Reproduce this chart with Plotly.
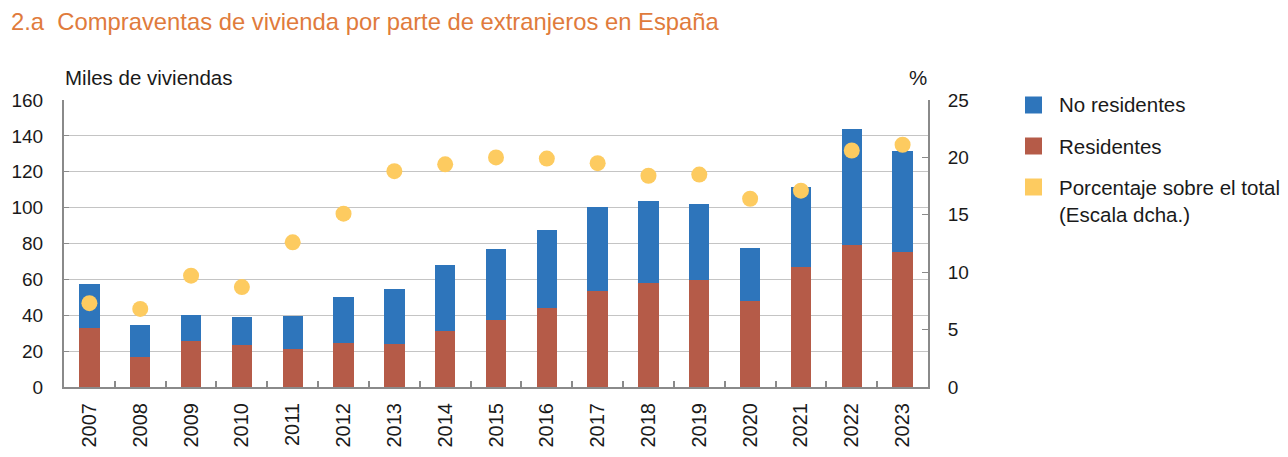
import plotly.graph_objects as go

years = [str(y) for y in range(2007, 2024)]
residentes = [32.9, 16.9, 25.8, 23.4, 21.0, 24.7, 24.2, 31.0, 37.2, 43.9, 53.3, 57.8, 59.5, 47.8, 66.7, 79.0, 75.1]
total = [57.6, 34.4, 40.0, 39.0, 39.6, 50.2, 54.4, 68.0, 76.9, 87.5, 100.2, 103.7, 102.2, 77.3, 111.5, 143.8, 131.4]
no_residentes = [round(t - r, 1) for t, r in zip(total, residentes)]
porcentaje = [7.3, 6.8, 9.7, 8.7, 12.6, 15.1, 18.8, 19.4, 20.0, 19.9, 19.5, 18.4, 18.5, 16.4, 17.1, 20.6, 21.1]

BLUE = "#2E75BB"
RED = "#B55B48"
YEL = "#FDCB60"
ORANGE = "#E07B3C"
AXIS = "#8A8A8A"
GRID = "#C4C4C4"
FONT = "Liberation Sans, Arial, sans-serif"
TXT = "#1a1a1a"

fig = go.Figure()
fig.add_bar(x=years, y=residentes, marker_color=RED, width=0.4, name="Residentes",
            marker_line_width=0, showlegend=False)
fig.add_bar(x=years, y=no_residentes, marker_color=BLUE, width=0.4, name="No residentes",
            marker_line_width=0, showlegend=False)
fig.add_scatter(x=years, y=porcentaje, yaxis="y2", mode="markers",
                marker=dict(color=YEL, size=16), name="Porcentaje", showlegend=False)

W, H = 1288, 457
L, R, T, B = 64, 928, 100, 387

def px(x):
    return (x - L) / (R - L)

def py(y):
    return (B - y) / (B - T)

fig.update_layout(
    width=W, height=H,
    margin=dict(l=L, r=W - R, t=T, b=H - B, autoexpand=False),
    paper_bgcolor="white", plot_bgcolor="white",
    barmode="stack", bargap=0.6,
    font=dict(family=FONT, size=19, color=TXT),
    xaxis=dict(type="category", range=[-0.5, 16.5], autorange=False, showline=True,
               linecolor=AXIS, linewidth=2, automargin=False,
               ticks="inside", tickson="boundaries", ticklen=6, tickcolor=AXIS, tickwidth=1.5,
               tickangle=-90, tickfont=dict(size=20), showgrid=False, ticklabelstandoff=6),
    yaxis=dict(range=[0, 160], dtick=20, showline=True, linecolor=AXIS, linewidth=2,
               ticks="inside", ticklen=5, tickcolor=AXIS, showgrid=True, gridcolor=GRID,
               gridwidth=1.2, zeroline=False, ticklabelstandoff=15, tickfont=dict(size=19),
               automargin=False),
    yaxis2=dict(range=[0, 25], dtick=5, overlaying="y", side="right", showline=True,
                linecolor=AXIS, linewidth=2, ticks="inside", ticklen=6, tickcolor=AXIS,
                showgrid=False, zeroline=False, ticklabelstandoff=14, tickfont=dict(size=19),
                automargin=False),
)

ann = []
ann.append(dict(text="2.a  Compraventas de vivienda por parte de extranjeros en España",
                x=px(9), y=py(21), xref="paper", yref="paper", xanchor="left", yanchor="middle",
                showarrow=False, font=dict(size=23.8, color=ORANGE)))
ann.append(dict(text="Miles de viviendas", x=px(63), y=py(77), xref="paper", yref="paper",
                xanchor="left", yanchor="middle", showarrow=False, font=dict(size=20.5)))
ann.append(dict(text="%", x=px(929), y=py(77), xref="paper", yref="paper",
                xanchor="right", yanchor="middle", showarrow=False, font=dict(size=20.5)))

legend_items = [(BLUE, "No residentes", 105), (RED, "Residentes", 146), (YEL, "Porcentaje sobre el total", 187)]
shapes = []
for col, label, yc in legend_items:
    shapes.append(dict(type="rect", xref="paper", yref="paper",
                       x0=px(1025), x1=px(1042), y0=py(yc + 8.5), y1=py(yc - 8.5),
                       fillcolor=col, line=dict(width=0)))
    ann.append(dict(text=label, x=px(1057), y=py(yc), xref="paper", yref="paper",
                    xanchor="left", yanchor="middle", showarrow=False, font=dict(size=20.5)))
ann.append(dict(text="(Escala dcha.)", x=px(1057), y=py(214), xref="paper", yref="paper",
                xanchor="left", yanchor="middle", showarrow=False, font=dict(size=20.5)))

fig.update_layout(annotations=ann, shapes=shapes)
fig.write_html("out.html")
